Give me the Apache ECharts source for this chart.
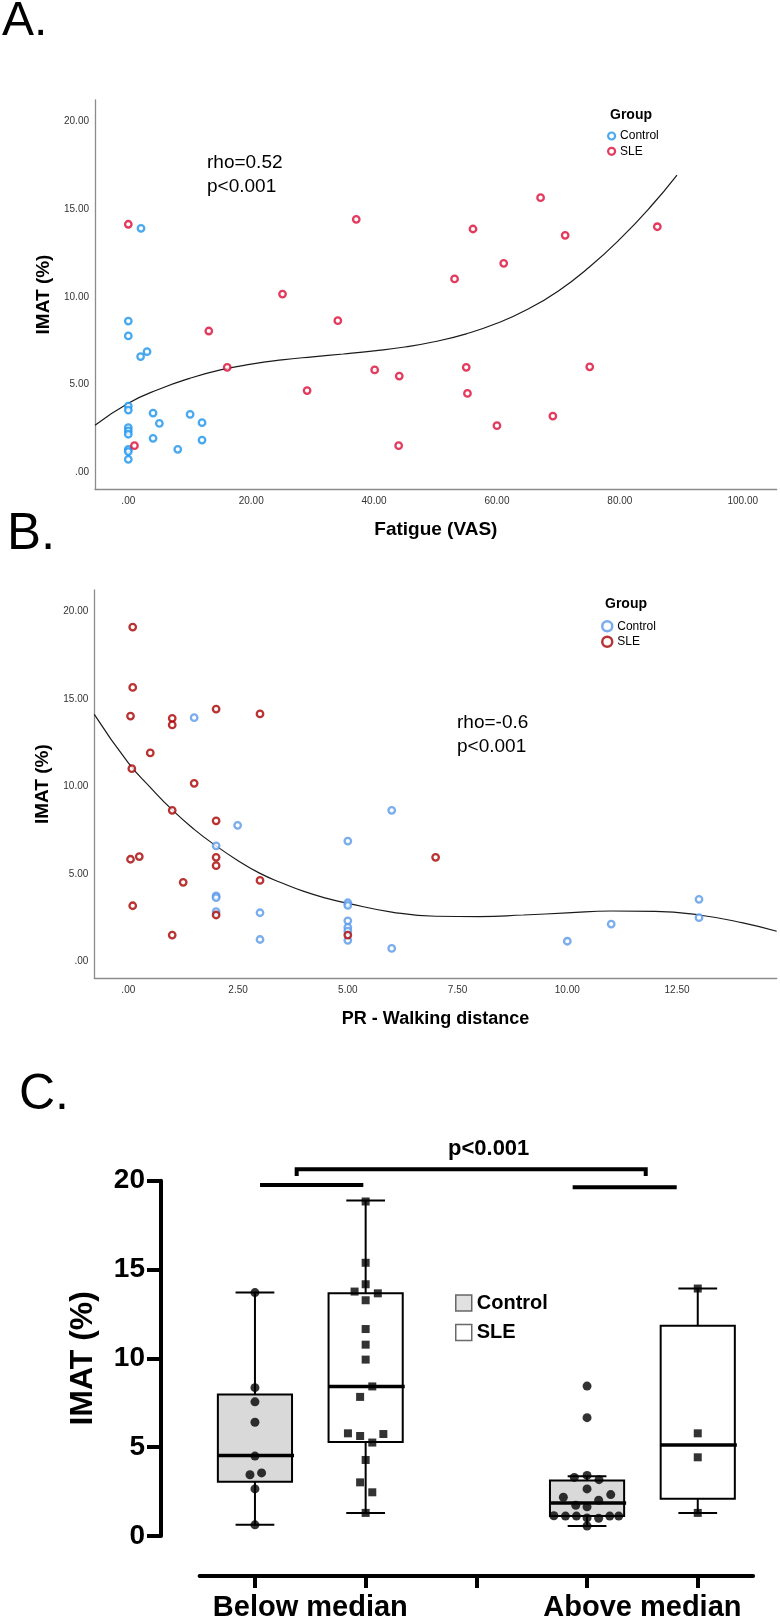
<!DOCTYPE html>
<html>
<head>
<meta charset="utf-8">
<script src="https://cdn.jsdelivr.net/npm/echarts@6/dist/echarts.min.js"></script>
<style>html,body{margin:0;padding:0;background:#fff;}#c{width:780px;height:1622px;}</style>
</head>
<body>
<div id="c"></div>
<script>
// ---------- Panel A: Fatigue (VAS) vs IMAT (%) ----------
const fatigueControl = [[2.07,13.92],[0,8.63],[0,7.78],[2.0,6.6],[3.05,6.88],[0,3.78],[0,3.55],[0,2.55],[0,2.36],[0,2.17],[0,1.31],[0,1.18],[0,0.74],[4.03,3.38],[5.06,2.79],[4.03,1.94],[10.06,3.3],[12.0,2.83],[12.0,1.84],[8.05,1.31]];
const fatigueSLE = [[0,14.15],[37.1,14.43],[67.1,15.67],[56.1,13.88],[71.1,13.52],[61.1,11.92],[53.1,11.03],[86.1,14.01],[44.1,5.49],[55.0,5.99],[75.1,6.02],[25.1,10.17],[34.1,8.65],[13.1,8.06],[16.1,5.99],[29.1,4.66],[40.1,5.84],[44.0,1.52],[1.0,1.52],[55.2,4.5],[69.1,3.21],[60.0,2.66]];
const fatigueFit = [[-5.42,2.68],[0,3.94],[5,4.74],[10,5.36],[15,5.84],[20,6.17],[25,6.41],[30,6.59],[35,6.75],[40,6.93],[45,7.15],[50,7.46],[55,7.9],[60,8.5],[65,9.3],[70,10.35],[75,11.7],[80,13.3],[85,15.15],[89.3,16.96]];
const fatigueTicks = [0,20,40,60,80,100];
const fatigueTickLabels = ['.00','20.00','40.00','60.00','80.00','100.00'];
const imatTicks = [0,5,10,15,20];
const imatTickLabels = ['.00','5.00','10.00','15.00','20.00'];

// ---------- Panel B: PR - Walking distance vs IMAT (%) ----------
const walkControl = [[1.5,13.94],[2.49,7.78],[6.0,8.64],[5.0,6.88],[2.0,6.61],[2.0,3.74],[2.0,3.64],[2.0,2.84],[3.0,2.78],[3.0,1.25],[5.0,3.35],[5.0,3.2],[5.0,2.32],[5.0,1.94],[5.0,1.73],[5.0,1.2],[6.0,0.74],[13.0,3.55],[13.0,2.5],[11.0,2.13],[10.0,1.15]];
const walkSLE = [[0.1,19.12],[0.1,15.67],[0.05,14.03],[1.0,13.9],[1.0,13.52],[2.0,14.43],[3.0,14.15],[0.5,11.92],[0.08,11.02],[1.5,10.18],[1.0,8.64],[2.0,8.04],[0.05,5.84],[0.25,5.99],[2.0,5.95],[2.0,5.47],[1.25,4.52],[3.0,4.63],[0.1,3.18],[2.0,2.65],[1.0,1.5],[5.0,1.5],[7.0,5.95]];
const walkFit = [[-0.775,14.13],[0,11.35],[0.5,9.95],[1,8.66],[1.5,7.55],[2,6.6],[2.5,5.76],[3,5.03],[3.5,4.48],[4,4.0],[4.5,3.62],[5,3.32],[6,2.82],[7,2.58],[8,2.56],[9,2.65],[10,2.77],[11,2.88],[12,2.86],[13,2.65],[14,2.2],[14.77,1.72]];
const walkTicks = [0,2.5,5,7.5,10,12.5];
const walkTickLabels = ['.00','2.50','5.00','7.50','10.00','12.50'];

// ---------- Panel C: box plots (slot, min, Q1, median, Q3, max) ----------
const groupTicks = [0,1,2,3,4];
const groupLabelAt = [0.5,3.5];
const groupLabels = ['Below median','Above median'];
const boxControl = [[0,0.63,3.05,4.53,7.96,13.7],[3,0.56,1.12,1.86,3.13,3.36]];
const boxSLE = [[1,1.3,5.29,8.42,13.66,18.88],[4,1.3,2.1,5.12,11.84,13.93]];
const ptsControl = [[0,13.7],[0,8.35],[0,7.55],[0,6.4],[0,4.5],[-0.045,3.45],[0.06,3.55],[0,2.65],[0,0.63],
  [3,8.44],[3,6.66],[2.885,3.3],[3,3.41],[3.108,3.17],[3,2.65],[2.786,2.18],[3.214,2.33],[3.105,2.01],[2.898,1.73],[3,1.64],
  [2.70,1.14],[2.805,1.12],[2.904,1.12],[3,1.02],[3.105,1.0],[3.205,1.12],[3.286,1.12],[3,0.56]];
const ptsSLE = [[1,18.83],[1,15.38],[1,14.17],[0.9,13.76],[1.11,13.66],[1,13.27],[1,11.65],[1,10.77],[1,9.93],[1.06,8.42],[0.95,7.83],[0.84,5.78],[0.95,5.63],[1.06,5.26],[1.16,5.74],[1,4.28],[0.95,3.02],[1.06,2.46],[1,1.3],
  [4,13.93],[4,5.78],[4,4.43],[4,1.3]];
const bracketBelow = [[0.046,19.76],[0.979,19.76]];
const bracketAbove = [[2.87,19.63],[3.81,19.63]];
const bracketTop = [[0.377,20.26],[0.377,20.64],[3.53,20.64],[3.53,20.26]];

const FONT = "'Liberation Sans', Arial, sans-serif";
const A_BLUE = '#1c94ec', A_RED = '#dc0a36';
const B_BLUE = '#5799ea', B_RED = '#a80000';
const AXIS_GREY = '#8c8c8c';

function labelFrom(ticks, labels) {
  return function (v) {
    for (let i = 0; i < ticks.length; i++) if (Math.abs(ticks[i] - v) < 1e-6) return labels[i];
    return '';
  };
}

function spssX(grid, min, max, ticks, labels, name, nameGap, nameSize) {
  return {
    gridIndex: grid, type: 'value', min: min, max: max,
    axisLine: { show: true, onZero: false, lineStyle: { color: AXIS_GREY, width: 1.3 } },
    axisTick: { show: false }, splitLine: { show: false },
    axisLabel: { customValues: ticks, formatter: labelFrom(ticks, labels), fontSize: 10, color: '#333', margin: 7, fontFamily: FONT },
    name: name, nameLocation: 'middle', nameGap: nameGap,
    nameTextStyle: { fontSize: nameSize, fontWeight: 'bold', color: '#000', fontFamily: FONT }
  };
}
function spssY(grid, min, max) {
  return {
    gridIndex: grid, type: 'value', min: min, max: max,
    axisLine: { show: true, onZero: false, lineStyle: { color: AXIS_GREY, width: 1.3 } },
    axisTick: { show: false }, splitLine: { show: false },
    axisLabel: { customValues: imatTicks, formatter: labelFrom(imatTicks, imatTickLabels), fontSize: 10, color: '#333', margin: 6, fontFamily: FONT },
    name: 'IMAT (%)', nameLocation: 'middle', nameGap: 42,
    nameTextStyle: { fontSize: 19, fontWeight: 'bold', color: '#000', fontFamily: FONT }
  };
}
function ring(name, data, xi, color, size, bw) {
  return { type: 'scatter', name: name, xAxisIndex: xi, yAxisIndex: xi, data: data, symbol: 'circle', symbolSize: size,
    itemStyle: { color: '#fff', borderColor: color, borderWidth: bw }, z: 3, emphasis: { disabled: true } };
}
function fitLine(data, xi) {
  return { type: 'line', name: 'fit', xAxisIndex: xi, yAxisIndex: xi, data: data, smooth: 0.5, symbol: 'none',
    lineStyle: { color: '#1a1a1a', width: 1.2 }, z: 2, silent: true };
}
function boxSeries(name, stats, fill) {
  return {
    type: 'custom', name: name, xAxisIndex: 2, yAxisIndex: 2, data: stats, z: 2, silent: true,
    encode: { x: 0, y: [1, 2, 3, 4, 5] },
    renderItem: function (params, api) {
      const x = api.value(0);
      const unit = api.size([1, 0])[0];
      const bw = unit * 0.67, cw = unit * 0.35;
      const pMin = api.coord([x, api.value(1)]);
      const cx = pMin[0], yMin = pMin[1];
      const yQ1 = api.coord([x, api.value(2)])[1];
      const yMed = api.coord([x, api.value(3)])[1];
      const yQ3 = api.coord([x, api.value(4)])[1];
      const yMax = api.coord([x, api.value(5)])[1];
      const st = { stroke: '#000', lineWidth: 2 };
      return { type: 'group', children: [
        { type: 'line', shape: { x1: cx, y1: yMax, x2: cx, y2: yQ3 }, style: st },
        { type: 'line', shape: { x1: cx, y1: yQ1, x2: cx, y2: yMin }, style: st },
        { type: 'line', shape: { x1: cx - cw / 2, y1: yMax, x2: cx + cw / 2, y2: yMax }, style: st },
        { type: 'line', shape: { x1: cx - cw / 2, y1: yMin, x2: cx + cw / 2, y2: yMin }, style: st },
        { type: 'rect', shape: { x: cx - bw / 2, y: yQ3, width: bw, height: yQ1 - yQ3 }, style: { fill: fill, stroke: '#000', lineWidth: 2 } },
        { type: 'line', shape: { x1: cx - bw / 2, y1: yMed, x2: cx + bw / 2 + 2, y2: yMed }, style: { stroke: '#000', lineWidth: 3.5 } }
      ]};
    }
  };
}
function bracket(data) {
  return { type: 'line', name: 'bracket', xAxisIndex: 2, yAxisIndex: 2, data: data, symbol: 'none', clip: false, silent: true,
    lineStyle: { color: '#000', width: 4, cap: 'butt', join: 'miter' }, z: 4 };
}

const chart = echarts.init(document.getElementById('c'), null, { renderer: 'canvas', width: 780, height: 1622 });

const option = {
  backgroundColor: '#fff',
  animation: false,
  textStyle: { fontFamily: FONT },
  title: [
    { text: 'A.', left: 2, top: -2, padding: 0, textStyle: { fontSize: 48, fontWeight: 'normal', color: '#000', fontFamily: FONT } },
    { text: 'B.', left: 7, top: 509, padding: 0, textStyle: { fontSize: 51, fontWeight: 'normal', color: '#000', fontFamily: FONT } },
    { text: 'C.', left: 19, top: 1070, padding: 0, textStyle: { fontSize: 50, fontWeight: 'normal', color: '#000', fontFamily: FONT } },
    { text: 'Group', left: 610, top: 108, padding: 0, textStyle: { fontSize: 14, fontWeight: 'bold', color: '#000', fontFamily: FONT } },
    { text: 'Group', left: 605, top: 597, padding: 0, textStyle: { fontSize: 14, fontWeight: 'bold', color: '#000', fontFamily: FONT } },
    { text: 'rho=0.52\np<0.001', left: 207, top: 151, padding: 0, textStyle: { fontSize: 19, fontWeight: 'normal', lineHeight: 24, color: '#000', fontFamily: FONT } },
    { text: 'rho=-0.6\np<0.001', left: 457, top: 711, padding: 0, textStyle: { fontSize: 19, fontWeight: 'normal', lineHeight: 24, color: '#000', fontFamily: FONT } },
    { text: 'p<0.001', left: 448, top: 1138, padding: 0, textStyle: { fontSize: 22, fontWeight: 'bold', color: '#000', fontFamily: FONT } }
  ],
  legend: [
    { orient: 'vertical', left: 607, top: 130, padding: 0, itemWidth: 7, itemHeight: 7, itemGap: 3.3, selectedMode: false,
      textStyle: { fontSize: 12, color: '#000', fontFamily: FONT },
      data: [
        { name: 'Control', icon: 'circle', itemStyle: { color: '#fff', borderColor: A_BLUE, borderWidth: 2.2 } },
        { name: 'SLE', icon: 'circle', itemStyle: { color: '#fff', borderColor: A_RED, borderWidth: 2.2 } }
      ] },
    { orient: 'vertical', left: 601, top: 620, padding: 0, itemWidth: 10, itemHeight: 10, itemGap: 3, selectedMode: false,
      textStyle: { fontSize: 12, color: '#000', fontFamily: FONT },
      data: [
        { name: 'Control', icon: 'circle', itemStyle: { color: '#fff', borderColor: B_BLUE, borderWidth: 2.5 } },
        { name: 'SLE', icon: 'circle', itemStyle: { color: '#fff', borderColor: B_RED, borderWidth: 2.5 } }
      ] },
    { orient: 'vertical', left: 455, top: 1293, padding: 0, itemWidth: 16, itemHeight: 16, itemGap: 9.4, selectedMode: false,
      textStyle: { fontSize: 20, fontWeight: 'bold', color: '#000', fontFamily: FONT },
      data: [
        { name: 'Control', icon: 'rect', itemStyle: { color: '#d9d9d9', borderColor: '#444', borderWidth: 1.5 } },
        { name: 'SLE', icon: 'rect', itemStyle: { color: '#fff', borderColor: '#444', borderWidth: 1.5 } }
      ] }
  ],
  grid: [
    { left: 95, top: 100, width: 681.7, height: 389 },
    { left: 94.3, top: 590, width: 682.4, height: 388.3 },
    { left: 199.6, top: 1180.7, width: 553.5, height: 357.6 }
  ],
  xAxis: [
    spssX(0, -5.42, 105.53, fatigueTicks, fatigueTickLabels, 'Fatigue (VAS)', 31, 19),
    spssX(1, -0.775, 14.77, walkTicks, walkTickLabels, 'PR - Walking distance', 32, 18),
    { gridIndex: 2, type: 'value', min: -0.5, max: 4.5, offset: 40,
      axisLine: { show: true, onZero: false, lineStyle: { color: '#000', width: 4 } },
      axisTick: { show: true, customValues: groupTicks, length: 12, lineStyle: { color: '#000', width: 4 } },
      splitLine: { show: false },
      axisLabel: { customValues: groupLabelAt, formatter: labelFrom(groupLabelAt, groupLabels), fontSize: 29, fontWeight: 'bold', color: '#000', margin: 17, fontFamily: FONT } }
  ],
  yAxis: [
    spssY(0, -0.953, 21.24),
    spssY(1, -0.97, 21.24),
    { gridIndex: 2, type: 'value', min: 0, max: 20, interval: 5, offset: 38.6,
      axisLine: { show: true, onZero: false, lineStyle: { color: '#000', width: 4 } },
      axisTick: { show: true, length: 14, lineStyle: { color: '#000', width: 4 } },
      splitLine: { show: false },
      axisLabel: { fontSize: 28, fontWeight: 'bold', color: '#000', margin: 16, fontFamily: FONT },
      name: 'IMAT (%)', nameLocation: 'middle', nameGap: 62,
      nameTextStyle: { fontSize: 32, fontWeight: 'bold', color: '#000', fontFamily: FONT } }
  ],
  series: [
    fitLine(fatigueFit, 0),
    ring('Control', fatigueControl, 0, A_BLUE, 6.5, 2.3),
    ring('SLE', fatigueSLE, 0, A_RED, 6.5, 2.3),
    fitLine(walkFit, 1),
    ring('Control', walkControl, 1, B_BLUE, 6.5, 2.3),
    ring('SLE', walkSLE, 1, B_RED, 6.5, 2.3),
    boxSeries('Control', boxControl, '#d9d9d9'),
    boxSeries('SLE', boxSLE, '#ffffff'),
    { type: 'scatter', name: 'Control', xAxisIndex: 2, yAxisIndex: 2, data: ptsControl, symbol: 'circle', symbolSize: 9,
      itemStyle: { color: '#000' }, z: 5, emphasis: { disabled: true } },
    { type: 'scatter', name: 'SLE', xAxisIndex: 2, yAxisIndex: 2, data: ptsSLE, symbol: 'rect', symbolSize: 8,
      itemStyle: { color: '#000' }, z: 5, emphasis: { disabled: true } },
    bracket(bracketBelow),
    bracket(bracketAbove),
    bracket(bracketTop)
  ]
};
chart.setOption(option);
</script>
</body>
</html>
